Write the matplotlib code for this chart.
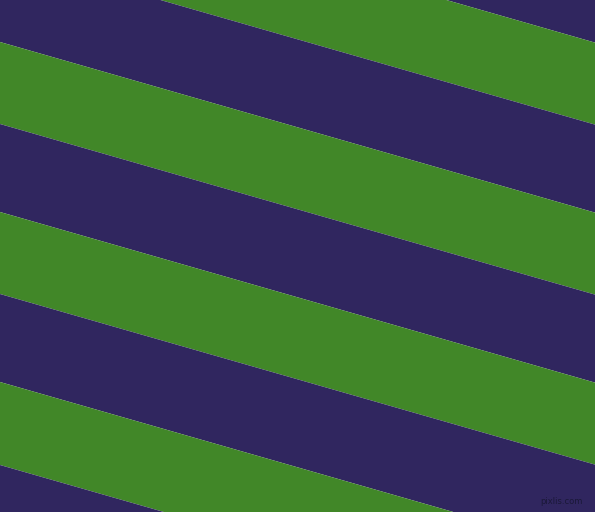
import numpy as np
import matplotlib
matplotlib.use("Agg")
from matplotlib import pyplot as plt

W, H = 595, 512
slope = np.tan(np.radians(16))

# stripe edges: y where each boundary crosses x=0 (top to bottom)
edges = [-300, -128, -46, 42, 124, 212, 294, 382, 465, 560]
colours = ["#30265f", "#418728"]  # navy, green
first = 0  # first band (-300..-128) is navy

fig = plt.figure(figsize=(W / 100, H / 100), dpi=100)
ax = fig.add_axes([0, 0, 1, 1])
ax.set_xlim(0, W)
ax.set_ylim(H, 0)
ax.axis("off")

x = np.array([0, W])
for i in range(len(edges) - 1):
    ax.fill_between(x, edges[i] + slope * x, edges[i + 1] + slope * x,
                    color=colours[(first + i) % 2], linewidth=0)

ax.text(583, 501, "pixlis.com", color="#1a1838", fontsize=6,
        ha="right", va="center", family="DejaVu Sans")

plt.savefig("out.png", dpi=100)
plt.close()
